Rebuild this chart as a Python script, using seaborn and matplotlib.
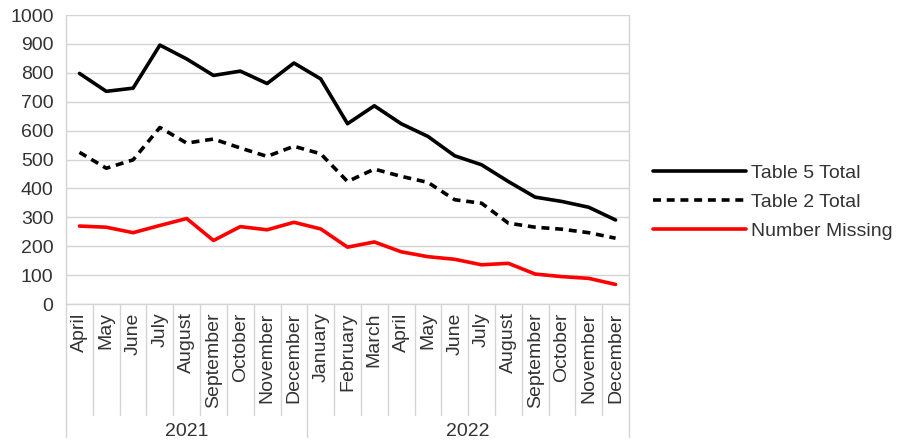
import matplotlib
matplotlib.use("Agg")
import matplotlib.pyplot as plt
import matplotlib.transforms as mtransforms
import pandas as pd
import seaborn as sns

months = ["April", "May", "June", "July", "August", "September", "October",
          "November", "December", "January", "February", "March", "April",
          "May", "June", "July", "August", "September", "October",
          "November", "December"]
years = ["2021"] * 9 + ["2022"] * 12
table5_total = [798, 736, 747, 896, 848, 791, 806, 763, 834, 779, 624, 686,
                624, 580, 513, 482, 424, 370, 355, 335, 291]
table2_total = [525, 470, 499, 611, 557, 571, 540, 511, 546, 520, 424, 467,
                442, 421, 361, 349, 280, 266, 259, 247, 228]
number_missing = [270, 266, 247, 272, 296, 220, 268, 257, 283, 260, 197, 215,
                  181, 164, 155, 136, 141, 104, 95, 89, 68]
series_names = ["Table 5 Total", "Table 2 Total", "Number Missing"]

periods = [f"{m} {y}" for m, y in zip(months, years)]
df = pd.concat([
    pd.DataFrame({"period": periods, "value": vals, "series": name})
    for name, vals in zip(series_names, [table5_total, table2_total, number_missing])
])

sns.set_style("white")
plt.rcParams["font.family"] = ["Liberation Sans", "DejaVu Sans"]
plt.rcParams["font.size"] = 14
text_color = "#333333"
grid_color = "#d4d4d4"

fig = plt.figure(figsize=(9.05, 4.42), dpi=100)
ax = fig.add_axes([0.073, 0.312, 0.622, 0.654])

sns.lineplot(
    data=df, x="period", y="value",
    hue="series", style="series",
    palette={"Table 5 Total": "black", "Table 2 Total": "black", "Number Missing": "#ff0000"},
    dashes={"Table 5 Total": "", "Table 2 Total": (2.2, 1.6), "Number Missing": ""},
    linewidth=2.6, sort=False, ax=ax,
)

n = len(months)
ax.set_xlim(-0.5, n - 0.5)
ax.set_ylim(0, 1000)
ax.set_yticks(range(0, 1001, 100))
ax.set_xticks(range(n))
ax.set_xticklabels(months, rotation=90, va="top", ha="center", color=text_color)
ax.set_xlabel("")
ax.set_ylabel("")
ax.yaxis.grid(True, color=grid_color, linewidth=1)
ax.set_axisbelow(True)
ax.tick_params(axis="y", length=6, width=1, color=grid_color, pad=3, labelcolor=text_color)
ax.tick_params(axis="x", length=0, pad=6)
for side in ["left", "right", "bottom"]:
    ax.spines[side].set_color(grid_color)
    ax.spines[side].set_linewidth(1)
ax.spines["top"].set_visible(False)

# category separators below the axis
trans = mtransforms.blended_transform_factory(ax.transData, ax.transAxes)
year_edges = [0, 9, n]
for k in range(n + 1):
    bottom = -0.46 if k in year_edges else -0.384
    ax.plot([k - 0.5, k - 0.5], [0, bottom], color=grid_color, linewidth=1,
            transform=trans, clip_on=False)
for start, end in zip(year_edges[:-1], year_edges[1:]):
    ax.text((start + end - 1) / 2, -0.44, years[start], transform=trans,
            ha="center", va="center", color=text_color, fontsize=14)

handles, labels = ax.get_legend_handles_labels()
ax.legend(handles, labels, loc="center left", bbox_to_anchor=(1.012, 0.353),
          frameon=False, handlelength=4.75, handletextpad=0.3,
          labelspacing=0.6, labelcolor=text_color)

fig.savefig("out.png", dpi=100)
